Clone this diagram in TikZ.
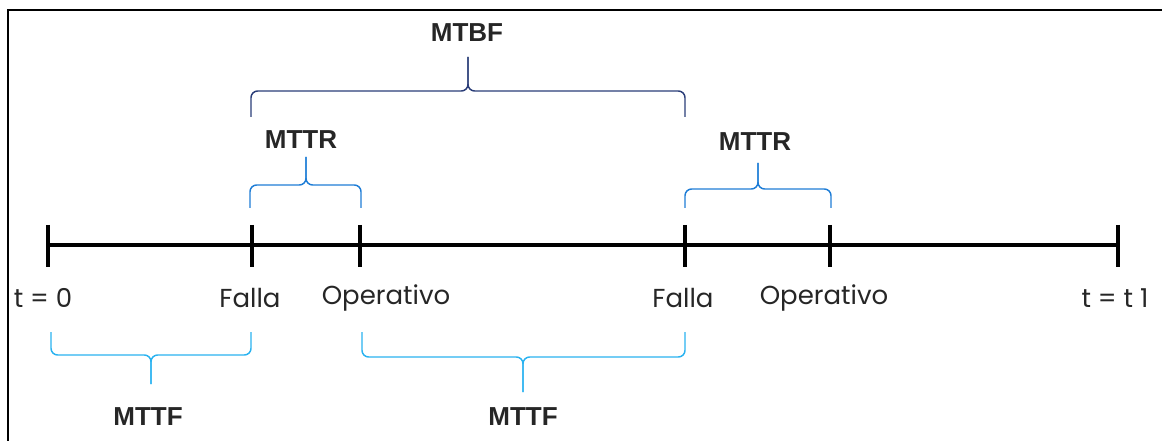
\documentclass[tikz,border=0pt]{standalone}
\usepackage{fontspec}
\setmainfont{Poppins}
\newfontfamily\etiq{Liberation Sans}
\usetikzlibrary{positioning}
\usetikzlibrary{calc}
\definecolor{celeste}{RGB}{41,178,240}
\definecolor{azul}{RGB}{30,125,214}
\definecolor{marino}{RGB}{42,61,120}

\tikzset{
	eje/.style={line width=2.3pt,line cap=rect},
	marca/.style={line width=2.3pt},
	llave/.style={line width=1.1pt,rounded corners=5pt},
	tiempo/.style={font=\fontsize{19.5}{22}\selectfont,text=black!85},
	medida/.style={font=\etiq\fontsize{19.5}{22}\selectfont\bfseries,text=black!85}
}

\begin{document}
\begin{tikzpicture}[x=0.75pt,y=-0.75pt]
		\useasboundingbox (0,0) rectangle (1162,441);
		\draw [line width=1.6pt] (1162,10) -- (8,10) -- (8,441);
		% instantes sobre el eje
		\coordinate (t0) at (48,245);
		\coordinate (f1) at (252,245);
		\coordinate (o1) at (360,245);
		\coordinate (f2) at (685,245);
		\coordinate (o2) at (830,245);
		\coordinate (t1) at (1118,245);
		\draw [eje] (t0) -- (t1);
		\foreach \p in {t0,f1,o1,f2,o2,t1}
			\draw [marca] ($(\p)+(0,-20)$) -- ($(\p)+(0,22)$);
		\node [tiempo] (lt0) at (43,298) {t = 0};
		\node [tiempo] (lf1) at (250,298) {Falla};
		\node [tiempo] (lo1) at (386,298) {Operativo};
		\node [tiempo] (lf2) at (683,298) {Falla};
		\node [tiempo] (lo2) at (824,298) {Operativo};
		\node [tiempo] (lt1) at (1115,298) {t = t 1};
		% llaves inferiores (MTTF)
		\draw [llave,celeste] (51,332) |- (151,355) -- (151,384);
		\draw [llave,celeste] (251,332) |- (151,355) -- (151,384);
		\node [medida] (mttf1) at (148,417) {MTTF};
		\draw [llave,celeste] (362,332) |- (523,357) -- (523,392);
		\draw [llave,celeste] (685,332) |- (523,357) -- (523,392);
		\node [medida] (mttf2) at (523,417) {MTTF};
		% llaves superiores (MTTR)
		\draw [llave,azul] (250,208) |- (306,185) -- (306,157);
		\draw [llave,azul] (361,208) |- (306,185) -- (306,157);
		\node [medida] (mttr1) at (301,140) {MTTR};
		\draw [llave,azul] (685,208) |- (758,189) -- (758,163);
		\draw [llave,azul] (831,208) |- (758,189) -- (758,163);
		\node [medida] (mttr2) at (755,142) {MTTR};
		% llave MTBF
		\draw [llave,marino] (251,117) |- (468,91) -- (468,57);
		\draw [llave,marino] (685,117) |- (468,91) -- (468,57);
		\node [medida] (mtbf) at (467,33) {MTBF};
	\end{tikzpicture}
\end{document}
